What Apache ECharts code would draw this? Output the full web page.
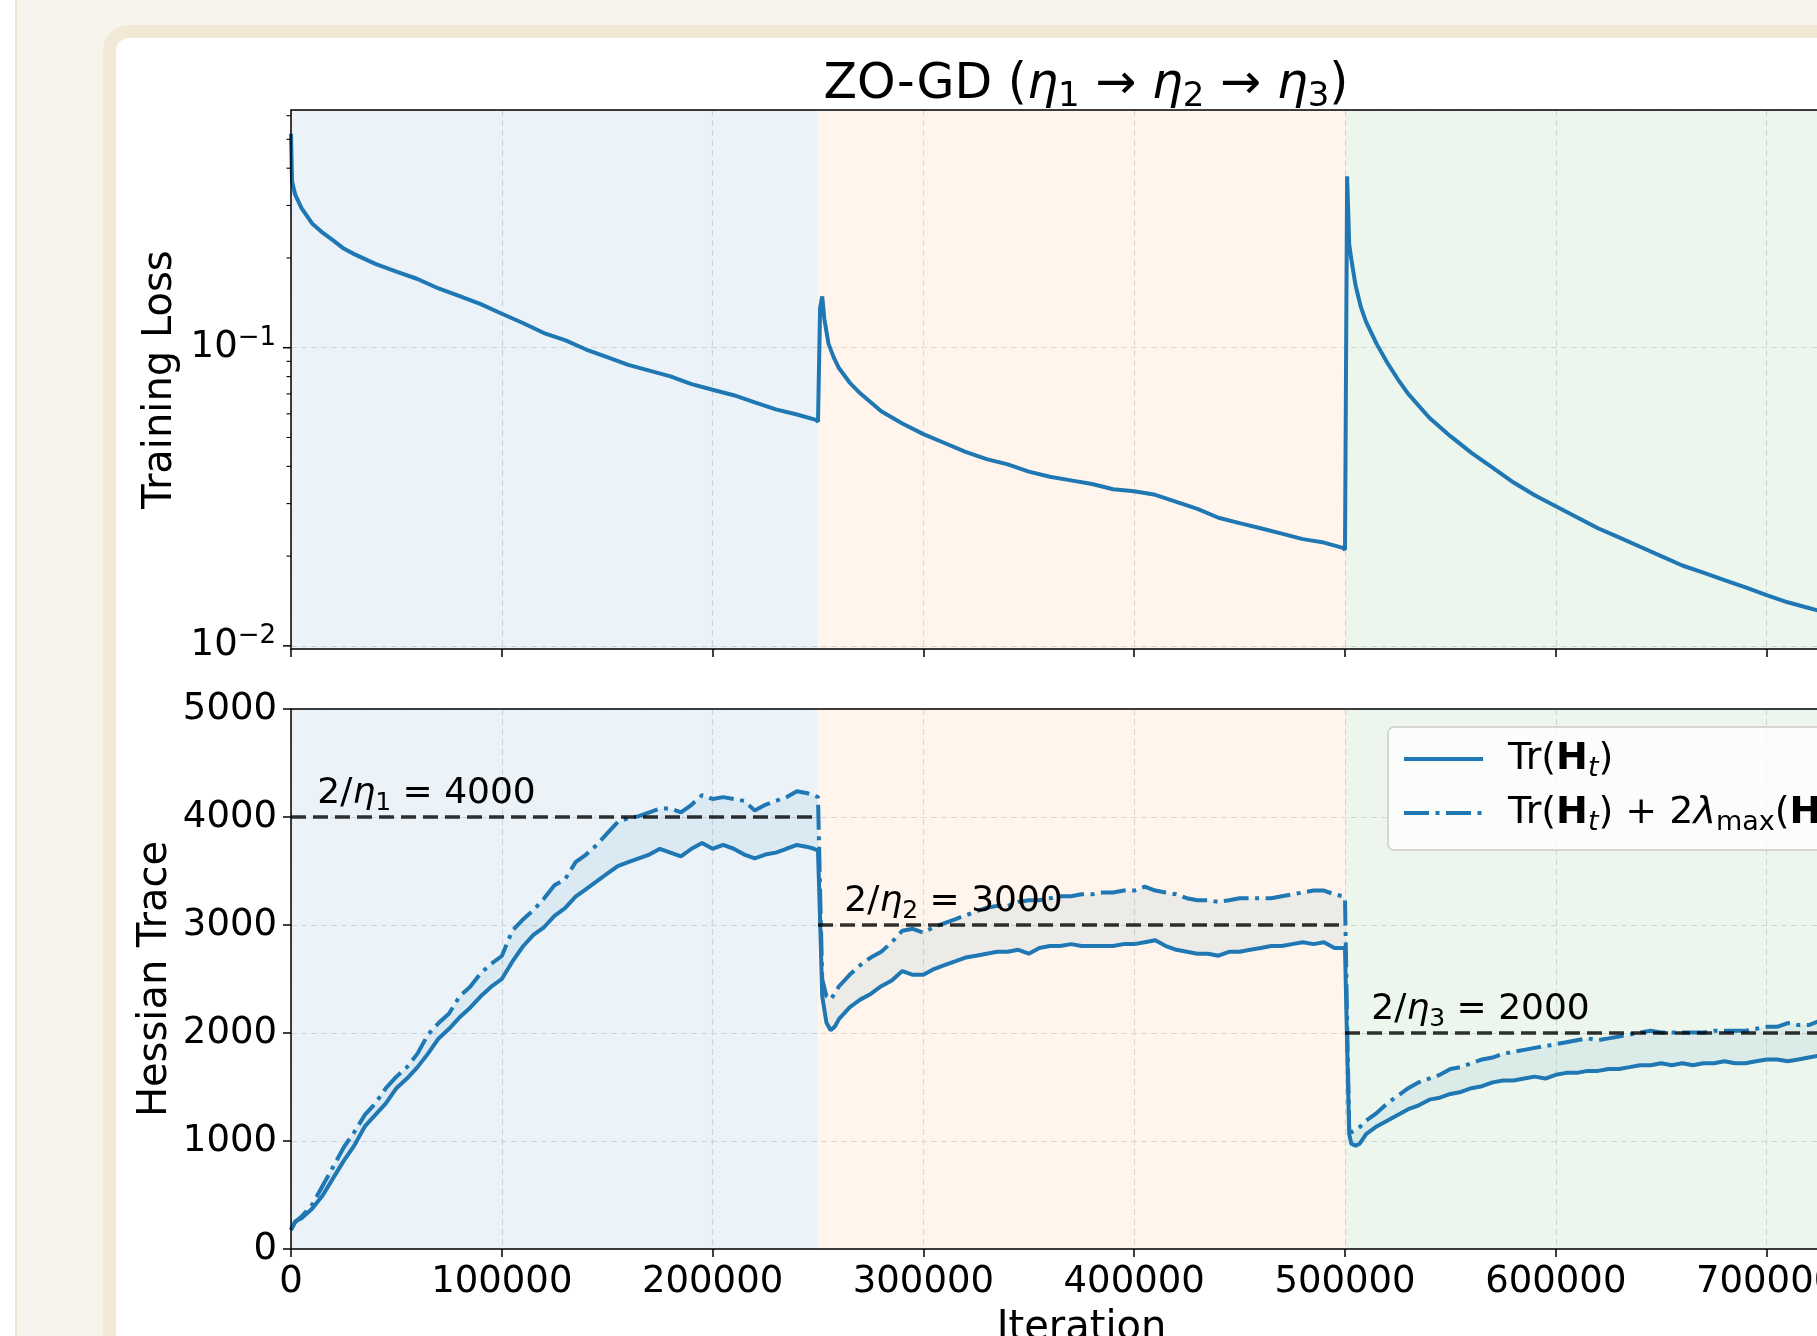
<!DOCTYPE html>
<html><head><meta charset="utf-8">
<script src="https://cdn.jsdelivr.net/npm/echarts@6/dist/echarts.min.js"></script>
<style>
html,body{margin:0;padding:0;width:1817px;height:1336px;overflow:hidden;background:#fff;}
#outer{position:absolute;left:15px;top:-10px;width:2000px;height:1500px;background:#f7f4ee;border-left:2px solid #efe6d2;}
#card{position:absolute;left:103px;top:25px;width:2000px;height:1500px;background:#fff;border:13px solid #f1e9d6;border-radius:26px;box-sizing:border-box;}
#chart{position:absolute;left:0;top:0;width:1817px;height:1336px;}
</style></head>
<body><div id="outer"></div><div id="card"></div><div id="chart"></div>
<script>
// ---------- data ----------
const phaseStart = [0, 250000, 500000];
const phaseEnd = [250000, 500000, 750000];
const thresholdValues = [4000, 3000, 2000];
const logMajorTicks = [0.01, 0.1];
const logMinorTicks = [0.02,0.03,0.04,0.05,0.06,0.07,0.08,0.09,0.2,0.3,0.4,0.5,0.6];

const lossIter = [0,500,2000,5000,10000,15000,20000,25000,30000,40000,50000,60000,70000,80000,90000,100000,110000,120000,130000,140000,150000,160000,170000,180000,190000,200000,210000,220000,230000,240000,249000,250000,
251000,252000,253000,255000,257500,260000,265000,270000,280000,290000,300000,310000,320000,330000,340000,350000,360000,370000,380000,390000,400000,410000,420000,430000,440000,450000,460000,470000,480000,490000,499000,500000,
501000,502000,503000,505000,507500,510000,515000,520000,525000,530000,540000,550000,560000,570000,580000,590000,600000,610000,620000,630000,640000,650000,660000,670000,680000,690000,700000,710000,720000,725000];
const lossValue = [0.522,0.361,0.326,0.294,0.261,0.243,0.229,0.215,0.206,0.191,0.180,0.170,0.158,0.149,0.140,0.130,0.121,0.112,0.106,0.0986,0.0929,0.0876,0.0838,0.0801,0.0755,0.0723,0.0693,0.0656,0.0621,0.0597,0.0573,0.0565,
0.136,0.1486,0.125,0.103,0.0926,0.0853,0.0764,0.0703,0.0612,0.0557,0.0513,0.0479,0.0447,0.0423,0.0406,0.0384,0.0369,0.0359,0.0349,0.0335,0.0330,0.0321,0.0304,0.0288,0.0269,0.0258,0.0248,0.0238,0.0228,0.0222,0.0213,0.0210,
0.376,0.222,0.198,0.162,0.137,0.122,0.103,0.0892,0.0785,0.0700,0.0582,0.0505,0.0444,0.0396,0.0353,0.0320,0.0294,0.0270,0.0248,0.0231,0.0215,0.0200,0.0186,0.0176,0.0166,0.0157,0.0148,0.0140,0.0134,0.0131];

const hessIter = [0,2000,5000,10000,15000,20000,25000,30000,35000,40000,45000,50000,55000,60000,65000,70000,75000,80000,85000,90000,95000,100000,105000,110000,115000,120000,125000,130000,135000,140000,145000,150000,155000,160000,165000,170000,175000,180000,185000,190000,195000,200000,205000,210000,215000,220000,225000,230000,235000,240000,245000,248000,250000,
251000,252000,254000,256000,258000,260000,265000,270000,275000,280000,285000,290000,295000,300000,305000,310000,315000,320000,325000,330000,335000,340000,345000,350000,355000,360000,365000,370000,375000,380000,385000,390000,395000,400000,405000,410000,415000,420000,425000,430000,435000,440000,445000,450000,455000,460000,465000,470000,475000,480000,485000,490000,495000,499000,500000,
501000,502000,503000,505000,507000,510000,515000,520000,525000,530000,535000,540000,545000,550000,555000,560000,565000,570000,575000,580000,585000,590000,595000,600000,605000,610000,615000,620000,625000,630000,635000,640000,645000,650000,655000,660000,665000,670000,675000,680000,685000,690000,695000,700000,705000,710000,715000,720000,725000];
const traceValue = [177,255,284,372,496,656,816,957,1135,1241,1348,1489,1578,1684,1809,1950,2039,2145,2234,2340,2429,2500,2660,2801,2908,2979,3085,3156,3262,3333,3404,3475,3546,3582,3617,3652,3706,3670,3635,3706,3759,3706,3741,3706,3652,3617,3652,3670,3706,3741,3723,3706,3688,
3050,2340,2096,2025,2060,2131,2238,2309,2362,2433,2486,2574,2539,2539,2592,2628,2663,2699,2716,2734,2752,2752,2770,2734,2787,2805,2805,2823,2805,2805,2805,2805,2823,2823,2840,2858,2805,2770,2752,2734,2734,2716,2752,2752,2770,2787,2805,2805,2823,2840,2823,2840,2787,2787,2780,
1900,1064,975,957,975,1064,1135,1188,1241,1294,1330,1383,1401,1436,1454,1489,1507,1543,1560,1560,1578,1596,1578,1613,1631,1631,1649,1649,1667,1667,1684,1702,1702,1720,1702,1720,1702,1720,1720,1738,1720,1720,1738,1755,1755,1738,1755,1773,1791];
const traceUpper = [177,250,301,408,585,762,940,1082,1241,1348,1489,1596,1684,1809,1986,2092,2181,2340,2429,2553,2642,2713,2947,3050,3138,3245,3369,3422,3582,3652,3741,3848,3954,3989,4007,4043,4078,4078,4043,4113,4202,4167,4184,4167,4149,4060,4113,4149,4184,4238,4220,4200,4184,
3300,2500,2340,2309,2370,2433,2539,2628,2699,2752,2840,2947,2965,2929,2982,3018,3053,3089,3124,3160,3177,3177,3213,3230,3230,3248,3266,3266,3284,3284,3301,3301,3319,3319,3355,3319,3301,3284,3248,3230,3230,3213,3230,3248,3248,3248,3248,3266,3284,3301,3319,3319,3284,3266,3250,
2100,1100,1082,1099,1130,1188,1259,1348,1418,1489,1543,1578,1613,1667,1684,1720,1755,1773,1809,1826,1844,1862,1879,1897,1915,1933,1950,1933,1950,1968,1986,2004,2021,2004,2004,2004,2004,2004,2021,2021,2021,2021,2039,2057,2057,2092,2074,2074,2110];

// ---------- style ----------
const FONT = 'DejaVu Sans';
const BLUE = '#1f77b4';
const LW = 4;
const DASHDOT = [25,6.5,4,6.5];
const phaseColors = ['rgba(31,119,180,0.09)', 'rgba(255,127,14,0.08)', 'rgba(44,160,44,0.09)'];
const gridLine = {show:true, lineStyle:{color:'#dedede', width:1.2, type:[6,4]}};
const tickStyle = {show:true, length:8, lineStyle:{color:'#000', width:1.5}};
const nameSeries1 = 'Tr(H_t)';
const nameSeries2 = 'Tr(H_t) + 2λmax(H_t)';

function mkRich(F) {
  const S = Math.round(F*0.7);
  return {
    n:{fontFamily:FONT,fontSize:F,color:'#000',lineHeight:Math.round(F*1.22)},
    p:{fontFamily:FONT,fontSize:F,color:'#000',lineHeight:Math.round(F*1.22),padding:[0,0,0,20]},
    b:{fontFamily:FONT,fontSize:F,fontWeight:'bold',color:'#000',lineHeight:Math.round(F*1.22)},
    i:{fontFamily:FONT,fontSize:F,fontStyle:'italic',color:'#000',lineHeight:Math.round(F*1.22)},
    it:{fontFamily:FONT,fontSize:S,fontStyle:'italic',color:'#000',lineHeight:Math.round(F*0.55),verticalAlign:'bottom'},
    s:{fontFamily:FONT,fontSize:S,color:'#000',lineHeight:Math.round(F*0.55),verticalAlign:'bottom'},
    sup:{fontFamily:FONT,fontSize:S,color:'#000',lineHeight:Math.round(F*0.66),verticalAlign:'top'}
  };
}
const mathRich = mkRich(36);
const legendRich = mkRich(38);
const tickRich = mkRich(37);
const legendText = {};
legendText[nameSeries1] = '{p|Tr(}{b|H}{it|t}{n|)}';
legendText[nameSeries2] = '{p|Tr(}{b|H}{it|t}{n|) + 2}{i|λ}{s|max}{n|(}{b|H}{it|t}{n|)}';

function phaseSeries(xi, yref) {
  return {
    type:'custom', xAxisIndex:xi, yAxisIndex:xi, silent:true, z:1,
    data: phaseStart.map((s,i)=>[s, phaseEnd[i], yref, i]),
    encode:{x:[0,1], y:2},
    renderItem:(params, api)=>{
      const p0 = api.coord([api.value(0), api.value(2)]);
      const p1 = api.coord([api.value(1), api.value(2)]);
      const cs = params.coordSys;
      return {type:'rect', shape:{x:p0[0], y:cs.y, width:p1[0]-p0[0], height:cs.height},
              style:{fill:phaseColors[api.value(3)]}};
    }
  };
}
function frameSeries(xi, yref) {
  return {
    type:'custom', xAxisIndex:xi, yAxisIndex:xi, silent:true, z:8,
    data:[[0, yref]], encode:{x:0, y:1},
    renderItem:(params, api)=>{
      const cs = params.coordSys;
      return {type:'rect', shape:{x:cs.x, y:cs.y, width:cs.width, height:cs.height},
              style:{fill:null, stroke:'#000', lineWidth:1.5}};
    }
  };
}

const series = [
  phaseSeries(0, 0.1),
  phaseSeries(1, 1000),
  frameSeries(0, 0.1),
  frameSeries(1, 1000),
  {
    type:'custom', xAxisIndex:0, yAxisIndex:0, silent:true, z:5,
    data: logMajorTicks.map(v=>[0,v,1]).concat(logMinorTicks.map(v=>[0,v,0])),
    encode:{x:0, y:1},
    renderItem:(params, api)=>{
      const p = api.coord([api.value(0), api.value(1)]);
      const major = api.value(2) === 1;
      const len = major ? 8 : 4.5;
      return {type:'line', shape:{x1:p[0]-len, y1:p[1], x2:p[0], y2:p[1]},
              style:{stroke:'#000', lineWidth: major ? 1.5 : 1.1}};
    }
  },
  {
    type:'line', xAxisIndex:0, yAxisIndex:0, symbol:'none', showSymbol:false, z:3,
    data: lossIter.map((x,i)=>[x, lossValue[i]]),
    lineStyle:{color:BLUE, width:LW}
  },
  {
    type:'custom', xAxisIndex:1, yAxisIndex:1, silent:true, z:2,
    data:[[0,0]], encode:{x:0,y:1},
    renderItem:(params, api)=>{
      const pts = [];
      for (let i=0;i<hessIter.length;i++) pts.push(api.coord([hessIter[i], traceUpper[i]]));
      for (let i=hessIter.length-1;i>=0;i--) pts.push(api.coord([hessIter[i], traceValue[i]]));
      return {type:'polygon', shape:{points:pts}, style:{fill:'rgba(31,119,180,0.08)'}};
    }
  },
  {
    name:nameSeries1, type:'line', xAxisIndex:1, yAxisIndex:1, symbol:'none', showSymbol:false, z:3,
    data: hessIter.map((x,i)=>[x, traceValue[i]]),
    lineStyle:{color:BLUE, width:LW}, itemStyle:{color:BLUE}
  },
  {
    name:nameSeries2, type:'line', xAxisIndex:1, yAxisIndex:1, symbol:'none', showSymbol:false, z:3,
    data: hessIter.map((x,i)=>[x, traceUpper[i]]),
    lineStyle:{color:BLUE, width:LW, type:DASHDOT}, itemStyle:{color:BLUE}
  }
];
thresholdValues.forEach((v,i)=>{
  series.push({
    type:'line', xAxisIndex:1, yAxisIndex:1, symbol:'none', showSymbol:false, z:4, silent:true,
    data:[[phaseStart[i], v],[phaseEnd[i], v]],
    lineStyle:{color:'rgba(0,0,0,0.8)', width:3.5, type:[15,7]}
  });
});
series.push({
  type:'custom', xAxisIndex:1, yAxisIndex:1, silent:true, z:6,
  data: thresholdValues.map((v,i)=>[phaseStart[i] + 0.05*(phaseEnd[i]-phaseStart[i]), v, i]),
  encode:{x:0,y:1},
  renderItem:(params, api)=>{
    const p = api.coord([api.value(0), api.value(1)]);
    const idx = api.value(2);
    return {type:'text', x:p[0], y:p[1] - 1,
      style:{text:'{n|2/}{i|η}{s|'+(idx+1)+'}{n| = '+thresholdValues[idx]+'}', rich:mathRich,
             align:'left', verticalAlign:'bottom'}};
  }
});

const option = {
  animation:false,
  title:{
    text:'{n|ZO-GD (}{i|η}{s|1}{n| → }{i|η}{s|2}{n| → }{i|η}{s|3}{n|)}',
    left:1081, top:51, textAlign:'center',
    textStyle:{fontWeight:'normal', rich:{
      n:{fontFamily:FONT,fontSize:49,fontWeight:'normal',color:'#000',lineHeight:58},
      i:{fontFamily:FONT,fontSize:49,fontWeight:'normal',fontStyle:'italic',color:'#000',lineHeight:58},
      s:{fontFamily:FONT,fontSize:34,fontWeight:'normal',color:'#000',lineHeight:27,verticalAlign:'bottom'}
    }}
  },
  legend:{
    data:[{name:nameSeries1, lineStyle:{width:LW, type:'solid'}}, {name:nameSeries2, lineStyle:{width:LW, type:DASHDOT}}],
    orient:'vertical', left:1388, top:727,
    itemWidth:79, itemHeight:20, itemGap:12, padding:[13,14,14,14], selectedMode:false,
    backgroundColor:'rgba(255,255,255,0.8)', borderColor:'#cccccc', borderWidth:1.5, borderRadius:6,
    itemStyle:{opacity:0}, lineStyle:{width:LW},
    formatter:(name)=>legendText[name],
    textStyle:{rich:legendRich}
  },
  grid:[
    {left:291, top:110, width:1581, height:539, show:false, outerBoundsMode:'none', containLabel:false},
    {left:291, top:709, width:1581, height:540, show:false, outerBoundsMode:'none', containLabel:false}
  ],
  xAxis:[
    {gridIndex:0, type:'value', min:0, max:750000, interval:100000,
     axisLine:{show:false}, axisTick:tickStyle, axisLabel:{show:false}, splitLine:gridLine},
    {gridIndex:1, type:'value', min:0, max:750000, interval:100000,
     axisLine:{show:false}, axisTick:tickStyle, splitLine:gridLine,
     axisLabel:{show:true, fontFamily:FONT, fontSize:37, color:'#000', margin:15, hideOverlap:false, formatter:(v)=>String(v)},
     name:'Iteration', nameLocation:'middle', nameGap:60, nameMoveOverlap:false,
     nameTextStyle:{fontFamily:FONT, fontSize:40, color:'#000'}}
  ],
  yAxis:[
    {gridIndex:0, type:'log', logBase:10, min:0.00976, max:0.627,
     axisLine:{show:false}, axisTick:{show:false}, splitLine:gridLine, minorTick:{show:false},
     axisLabel:{margin:15, formatter:(v)=>{
        const e = Math.log10(v); const r = Math.round(e);
        if (Math.abs(e-r) > 1e-6) return '';
        return '{n|10}{sup|' + (r<0 ? '\u2212' : '') + Math.abs(r) + '}';
     }, rich:tickRich},
     name:'Training Loss', nameLocation:'middle', nameRotate:90, nameGap:110, nameMoveOverlap:false,
     nameTextStyle:{fontFamily:FONT, fontSize:40, color:'#000'}},
    {gridIndex:1, type:'value', min:0, max:5000, interval:1000,
     axisLine:{show:false}, axisTick:tickStyle, splitLine:gridLine,
     axisLabel:{fontFamily:FONT, fontSize:37, color:'#000', margin:14, formatter:(v)=>String(v)},
     name:'Hessian Trace', nameLocation:'middle', nameRotate:90, nameGap:115, nameMoveOverlap:false,
     nameTextStyle:{fontFamily:FONT, fontSize:40, color:'#000'}}
  ],
  series:series
};
const chart = echarts.init(document.getElementById('chart'), null, {renderer:'canvas'});
chart.setOption(option);
</script></body></html>
